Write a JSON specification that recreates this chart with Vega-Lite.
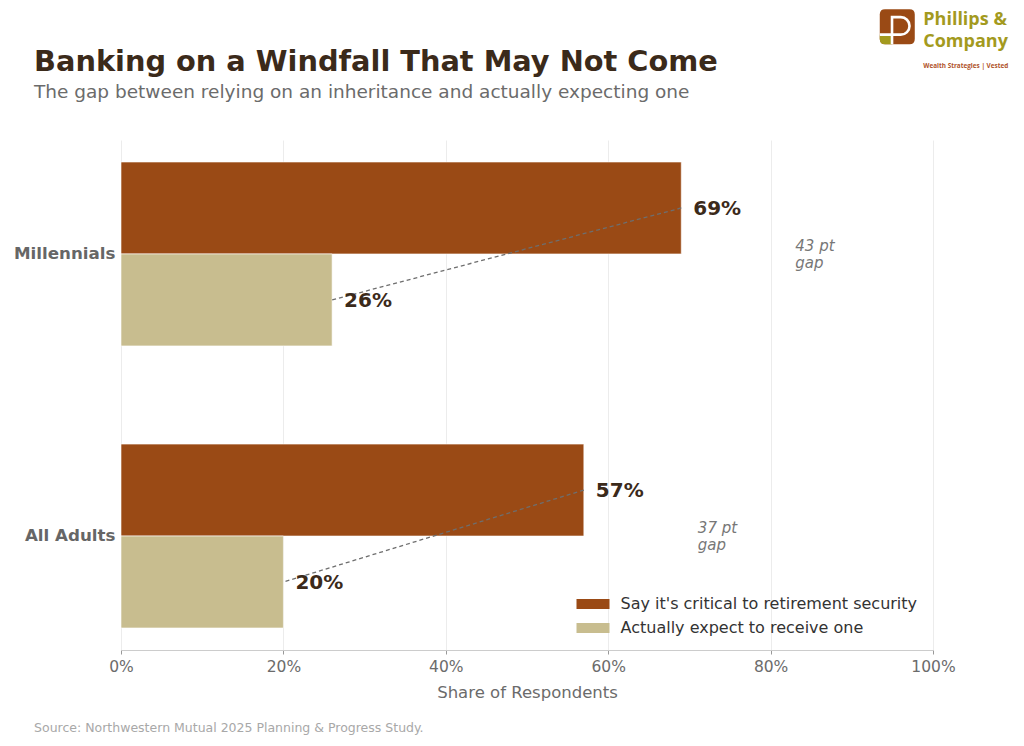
{
  "$schema": "https://vega.github.io/schema/vega-lite/v6.json",
  "autosize": "none",
  "width": 812,
  "height": 510,
  "padding": {"left": 121, "top": 140, "right": 91, "bottom": 96},
  "background": "white",
  "config": {
    "font": "DejaVu Sans",
    "view": {"stroke": null},
    "text": {"lineBreak": "\n"}
  },
  "title": {
    "text": "Banking on a Windfall That May Not Come",
    "subtitle": "The gap between relying on an inheritance and actually expecting one",
    "anchor": "start",
    "frame": "group",
    "dx": -87,
    "dy": 132,
    "offset": 40,
    "font": "DejaVu Sans",
    "fontSize": 28.8,
    "fontWeight": "bold",
    "color": "#3b2a1a",
    "subtitleFont": "DejaVu Sans",
    "subtitleFontSize": 18.5,
    "subtitleColor": "#6b6b6b",
    "subtitlePadding": 6
  },
  "datasets": {
    "bars": [
      {"group": "Millennials", "series": "Say it's critical to retirement security", "value": 0.69},
      {"group": "Millennials", "series": "Actually expect to receive one", "value": 0.26},
      {"group": "All Adults", "series": "Say it's critical to retirement security", "value": 0.57},
      {"group": "All Adults", "series": "Actually expect to receive one", "value": 0.20}
    ],
    "gaps": [
      {"group": "Millennials", "critical": 0.69, "label": "43 pt\ngap"},
      {"group": "All Adults", "critical": 0.57, "label": "37 pt\ngap"}
    ],
    "logo": [
      {"text": "Phillips &", "x": 0.988, "y": 1.236},
      {"text": "Company", "x": 0.988, "y": 1.192}
    ],
    "tagline": [
      {"text": "Wealth Strategies | Vested", "x": 0.988, "y": 1.145}
    ],
    "icon": [
      {"x": 0.956, "y": 1.222}
    ],
    "note": [
      {"text": "Source: Northwestern Mutual 2025 Planning & Progress Study.", "x": -0.107, "y": -0.153}
    ]
  },
  "resolve": {"scale": {"y": "independent"}, "axis": {"y": "independent"}},
  "layer": [
    {
      "data": {"name": "bars"},
      "layer": [
        {
          "mark": {"type": "bar", "stroke": "#ffffff", "strokeWidth": 0.6},
          "encoding": {
            "y": {
              "field": "group", "type": "nominal",
              "sort": ["Millennials", "All Adults"],
              "scale": {"type": "band", "paddingInner": 0.348, "paddingOuter": 0.078},
              "axis": {
                "title": null, "ticks": false, "domain": false, "grid": false,
                "labelFontSize": 16.7, "labelFontWeight": "bold", "labelColor": "#666666",
                "labelPadding": 6, "labelFont": "DejaVu Sans"
              }
            },
            "yOffset": {
              "field": "series", "type": "nominal",
              "sort": ["Say it's critical to retirement security", "Actually expect to receive one"],
              "scale": {"paddingInner": 0, "paddingOuter": 0}
            },
            "x": {
              "field": "value", "type": "quantitative",
              "scale": {"domain": [0, 1], "nice": false},
              "axis": {
                "title": "Share of Respondents",
                "values": [0, 0.2, 0.4, 0.6, 0.8, 1],
                "format": ".0%",
                "labelFlush": false,
                "labelFontSize": 15.5, "labelColor": "#6b6b6b", "labelPadding": 5,
                "titleFontSize": 16.5, "titleColor": "#6b6b6b", "titleFontWeight": "normal", "titlePadding": 10,
                "grid": true, "gridColor": "#ececec", "gridWidth": 1,
                "domainColor": "#cccccc", "domainWidth": 1.2,
                "tickColor": "#999999", "tickSize": 4
              }
            },
            "color": {
              "field": "series", "type": "nominal",
              "sort": ["Say it's critical to retirement security", "Actually expect to receive one"],
              "scale": {"range": ["#9A4A15", "#C8BD8F"]},
              "legend": {
                "title": null,
                "orient": "none",
                "legendX": 464,
                "legendY": 456,
                "symbolType": "M-3.3,-1H3.3V1H-3.3Z",
                "symbolSize": 100,
                "symbolStrokeWidth": 0,
                "labelFontSize": 16,
                "labelColor": "#333333",
                "labelOffset": 19.5,
                "rowPadding": 8,
                "labelLimit": 400
              }
            }
          }
        },
        {
          "mark": {"type": "line", "strokeDash": [4, 3], "color": "#6e6e6e", "strokeWidth": 1.3},
          "encoding": {
            "y": {"field": "group", "type": "nominal", "sort": ["Millennials", "All Adults"]},
            "yOffset": {"field": "series", "type": "nominal", "sort": ["Say it's critical to retirement security", "Actually expect to receive one"]},
            "x": {"field": "value", "type": "quantitative"},
            "detail": {"field": "group"}
          }
        },
        {
          "mark": {"type": "text", "align": "left", "baseline": "middle", "dx": 12, "dy": 1, "fontSize": 20, "fontWeight": "bold", "color": "#3b2a1a"},
          "encoding": {
            "y": {"field": "group", "type": "nominal", "sort": ["Millennials", "All Adults"]},
            "yOffset": {"field": "series", "type": "nominal", "sort": ["Say it's critical to retirement security", "Actually expect to receive one"]},
            "x": {"field": "value", "type": "quantitative"},
            "text": {"field": "value", "type": "quantitative", "format": ".0%"}
          }
        }
      ]
    },
    {
      "data": {"name": "gaps"},
      "mark": {"type": "text", "align": "left", "baseline": "middle", "dx": 114, "dy": -8, "fontSize": 15, "fontStyle": "italic", "color": "#777777", "lineHeight": 17},
      "encoding": {
        "y": {"field": "group", "type": "nominal", "sort": ["Millennials", "All Adults"], "scale": {"type": "band", "paddingInner": 0.348, "paddingOuter": 0.078}, "axis": null},
        "x": {"field": "critical", "type": "quantitative"},
        "text": {"field": "label"}
      }
    },
    {
      "layer": [
        {
          "data": {"name": "icon"},
          "mark": {"type": "point", "filled": true, "size": 1225, "color": "#9A4A15", "opacity": 1, "strokeWidth": 0,
                   "shape": "M-0.7,-1H0.7Q1,-1 1,-0.7V0.7Q1,1 0.7,1H-0.7Q-1,1 -1,0.7V-0.7Q-1,-1 -0.7,-1Z"},
          "encoding": {
            "x": {"field": "x", "type": "quantitative"},
            "y": {"field": "y", "type": "quantitative", "scale": {"domain": [0, 1], "nice": false, "zero": false}, "axis": null}
          }
        },
        {
          "data": {"name": "icon"},
          "mark": {"type": "point", "filled": true, "size": 1225, "color": "#A39A1E", "opacity": 1, "strokeWidth": 0,
                   "shape": "M-1,0.45H-0.3V1H-0.7Q-1,1 -1,0.7Z"},
          "encoding": {
            "x": {"field": "x", "type": "quantitative"},
            "y": {"field": "y", "type": "quantitative"}
          }
        },
        {
          "data": {"name": "icon"},
          "mark": {"type": "point", "filled": false, "size": 1225, "color": "#ffffff", "opacity": 1, "strokeWidth": 2.6,
                   "shape": "M-0.3,1V-0.55H0.2A0.5,0.5 0 0 1 0.2,0.45H-1"},
          "encoding": {
            "x": {"field": "x", "type": "quantitative"},
            "y": {"field": "y", "type": "quantitative"}
          }
        },
        {
          "data": {"name": "logo"},
          "mark": {"type": "text", "align": "left", "baseline": "middle", "fontSize": 18, "fontWeight": "bold", "color": "#A39A1E", "font": "Open Sans"},
          "encoding": {
            "x": {"field": "x", "type": "quantitative"},
            "y": {"field": "y", "type": "quantitative"},
            "text": {"field": "text"}
          }
        },
        {
          "data": {"name": "tagline"},
          "mark": {"type": "text", "align": "left", "baseline": "middle", "fontSize": 6.4, "fontWeight": "bold", "color": "#B0532A", "font": "Open Sans"},
          "encoding": {
            "x": {"field": "x", "type": "quantitative"},
            "y": {"field": "y", "type": "quantitative"},
            "text": {"field": "text"}
          }
        },
        {
          "data": {"name": "note"},
          "mark": {"type": "text", "align": "left", "baseline": "middle", "fontSize": 12.5, "color": "#a8a8a8"},
          "encoding": {
            "x": {"field": "x", "type": "quantitative"},
            "y": {"field": "y", "type": "quantitative"},
            "text": {"field": "text"}
          }
        }
      ]
    }
  ]
}
